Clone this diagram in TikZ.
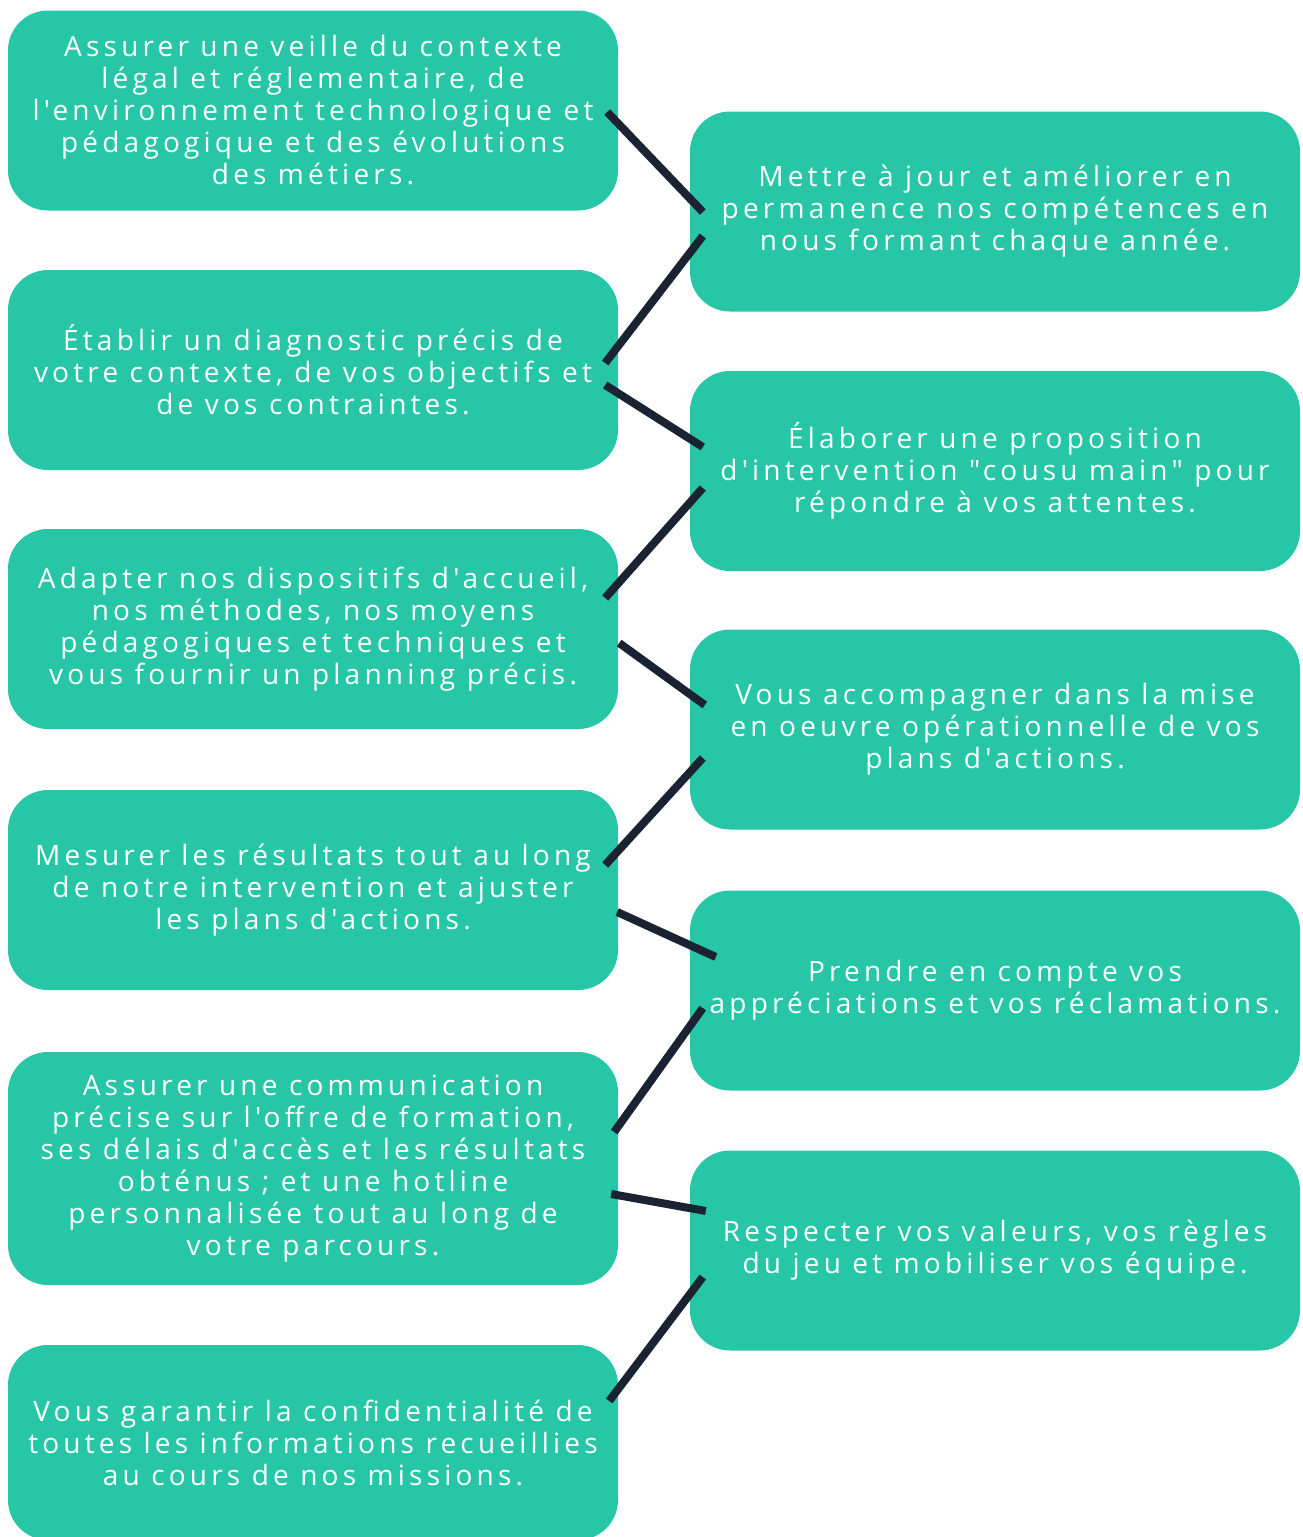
\documentclass[tikz,border=0pt]{standalone}
\usepackage{fontspec}
\usetikzlibrary{calc}
\newfontfamily\cardfont[Ligatures=TeXOff,LetterSpace=15]{Open Sans}
\definecolor{cardteal}{HTML}{26C6A6}
\definecolor{linknavy}{HTML}{1B2333}
\begin{document}
\begin{tikzpicture}[x=1pt, y=-1pt,
        card/.style={fill=cardteal, rounded corners=40pt, minimum width=610pt,
            minimum height=200pt, inner sep=0pt, align=center, text=white,
            font=\cardfont\fontsize{28}{32}\selectfont},
        link/.style={draw=linknavy, line width=8pt}]
        \useasboundingbox (0,0) rectangle (1302,1537);
        % left column
        \node[card] (l1) at (313,110.5) {Assurer une veille du contexte\\l\'egal et r\'eglementaire, de\\l'environnement technologique et\\p\'edagogique et des \'evolutions\\des m\'etiers.};
        \node[card] (l2) at (313,370) {\'Etablir un diagnostic pr\'ecis de\\votre contexte, de vos objectifs et\\de vos contraintes.};
        \node[card] (l3) at (313,629) {Adapter nos dispositifs d'accueil,\\nos m\'ethodes, nos moyens\\p\'edagogiques et techniques et\\vous fournir un planning pr\'ecis.};
        \node[card] (l4) at (313,890) {Mesurer les r\'esultats tout au long\\de notre intervention et ajuster\\les plans d'actions.};
        \node[card, minimum height=233pt] (l5) at (313,1168.5) {Assurer une communication\\pr\'ecise sur l'offre de formation,\\ses d\'elais d'acc\`es et les r\'esultats\\obt\'enus ; et une hotline\\personnalis\'ee tout au long de\\votre parcours.};
        \node[card, minimum height=195pt] (l6) at (313,1442.5) {Vous garantir la confidentialit\'e de\\toutes les informations recueillies\\au cours de nos missions.};
        % right column
        \node[card] (r1) at (995,211.5) {Mettre \`a jour et am\'eliorer en\\permanence nos comp\'etences en\\nous formant chaque ann\'ee.};
        \node[card] (r2) at (995,471) {\'Elaborer une proposition\\d'intervention "cousu main" pour\\r\'epondre \`a vos attentes.};
        \node[card] (r3) at (995,729.5) {Vous accompagner dans la mise\\en oeuvre op\'erationnelle de vos\\plans d'actions.};
        \node[card] (r4) at (995,990.5) {Prendre en compte vos\\appr\'eciations et vos r\'eclamations.};
        \node[card] (r5) at (995,1250.5) {Respecter vos valeurs, vos r\`egles\\du jeu et mobiliser vos \'equipe.};
        % zigzag links
        \draw[link] ($(l1.east)+(-11,1.5)$) -- ($(r1.west)+(13,0.5)$);
        \draw[link] ($(r1.west)+(13,24.5)$) -- ($(l2.east)+(-13,-7)$);
        \draw[link] ($(l2.east)+(-13,15)$) -- ($(r2.west)+(13,-24)$);
        \draw[link] ($(r2.west)+(13,17)$) -- ($(l3.east)+(-13,-31)$);
        \draw[link] ($(l3.east)+(1,14)$) -- ($(r3.west)+(15,-24.5)$);
        \draw[link] ($(r3.west)+(13,28.5)$) -- ($(l4.east)+(-13,-25)$);
        \draw[link] ($(l4.east)+(-1,22)$) -- ($(r4.west)+(26,-33.5)$);
        \draw[link] ($(r4.west)+(13,17.5)$) -- ($(l5.east)+(-4,-36.5)$);
        \draw[link] ($(l5.east)+(-7,25.5)$) -- ($(r5.west)+(16,-39.5)$);
        \draw[link] ($(r5.west)+(13,26.5)$) -- ($(l6.east)+(-9,-41.5)$);
    \end{tikzpicture}
\end{document}
